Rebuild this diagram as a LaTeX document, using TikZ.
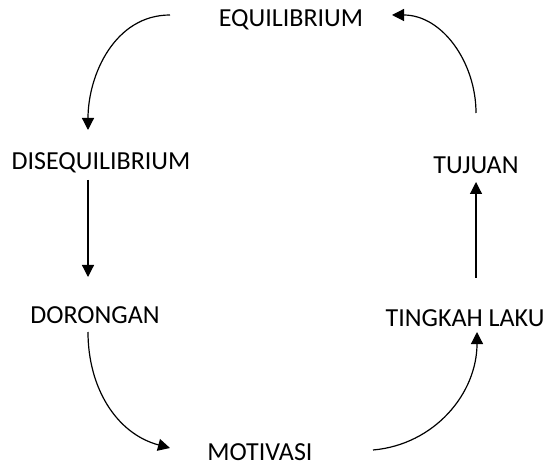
\documentclass[tikz,border=0pt]{standalone}
\usepackage{fontspec}
\setmainfont{Carlito}
\usetikzlibrary{arrows.meta}

\begin{document}
\begin{tikzpicture}[x=1pt,y=1pt,
    label/.style={inner sep=0pt,font=\fontsize{26}{30}\selectfont},
    arr/.style={line width=1.2pt,-{Triangle[length=12pt,width=12pt]}}
  ]
  \useasboundingbox (0,0) rectangle (548,466);
  % stages of the cycle
  \node[label] (eq)    at (291,446) {EQUILIBRIUM};
  \node[label] (diseq) at (101,303) {DISEQUILIBRIUM};
  \node[label] (dor)   at (95,151)  {DORONGAN};
  \node[label] (mot)   at (260,14)  {MOTIVASI};
  \node[label] (tl)    at (465,148) {TINGKAH LAKU};
  \node[label] (tuj)   at (476,301) {TUJUAN};
  % connectors
  \draw[arr] ([xshift=-121pt,yshift=5pt]eq.center) to[out=180,in=90]
    ([xshift=-13pt,yshift=33pt]diseq.center);
  \draw[arr] ([xshift=-13pt,yshift=-17pt]diseq.center) --
    ([xshift=-7pt,yshift=38pt]dor.center);
  \draw[arr] ([xshift=-7pt,yshift=-17pt]dor.center) to[out=-90,in=165]
    ([xshift=-90pt,yshift=4pt]mot.center);
  \draw[arr] ([xshift=113pt,yshift=2pt]mot.center) to[out=5,in=-90]
    ([xshift=12pt,yshift=-14pt]tl.center);
  \draw[arr] ([xshift=11pt,yshift=40pt]tl.center) --
    ([yshift=-17pt]tuj.center);
  \draw[arr] ([yshift=52pt]tuj.center) to[out=90,in=0]
    ([xshift=101pt,yshift=5pt]eq.center);
\end{tikzpicture}
\end{document}
